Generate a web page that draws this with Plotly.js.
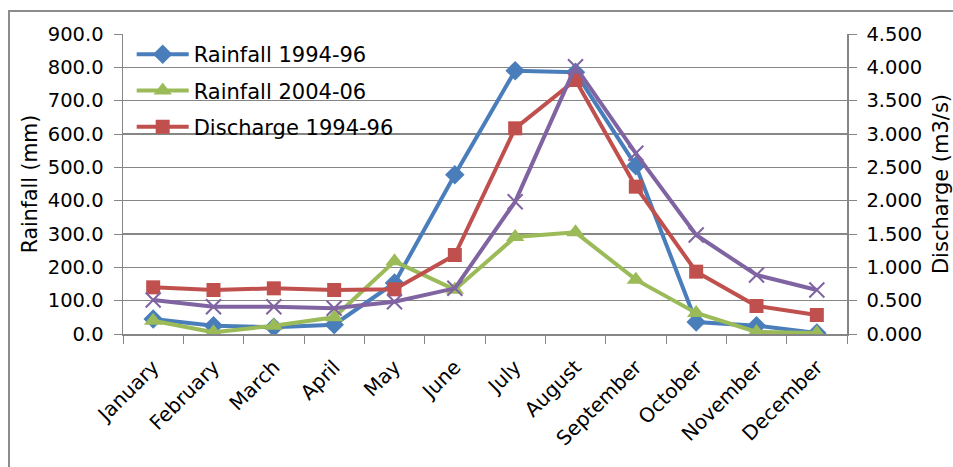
<!DOCTYPE html>
<html>
<head>
<meta charset="utf-8">
<script src="https://cdn.plot.ly/plotly-3.0.1.min.js"></script>
<style>
html,body{margin:0;padding:0;background:#fff;}
#frame{position:absolute;left:8px;top:10px;width:960px;height:470px;border-left:2px solid #8c8c8c;border-top:2px solid #8c8c8c;box-sizing:border-box;}
#chart{position:absolute;left:0;top:0;width:953px;height:467px;}
</style>
</head>
<body>
<div id="frame"></div>
<div id="chart"></div>
<script>
const months = ["January","February","March","April","May","June","July","August","September","October","November","December"];
const rainfall9496 = [45, 25, 20, 28, 153, 478, 790, 785, 505, 36, 25, 3];
const rainfall0406 = [40, 5, 25, 50, 218, 133, 291, 305, 163, 63, 6, 3];
const discharge9496 = [0.70, 0.66, 0.685, 0.66, 0.67, 1.185, 3.085, 3.81, 2.21, 0.935, 0.42, 0.285];
const discharge0406 = [0.51, 0.41, 0.41, 0.385, 0.485, 0.685, 1.985, 4.01, 2.71, 1.485, 0.885, 0.66];

const FONT = "'DejaVu Sans', sans-serif";
const traces = [
  {x: months, y: rainfall9496, name: "Rainfall 1994-96", legendgroup: "a", yaxis: "y", mode: "lines+markers",
   line: {color: "#4a7ebb", width: 4}, marker: {symbol: "diamond", size: 15, color: "#4a7ebb"}},
  {x: months, y: rainfall0406, name: "Rainfall 2004-06", legendgroup: "b", yaxis: "y", mode: "lines+markers",
   line: {color: "#9bbb59", width: 4}, marker: {symbol: "triangle-up", size: 16, color: "#9bbb59"}},
  {x: months, y: discharge9496, name: "Discharge 1994-96", legendgroup: "c", yaxis: "y2", mode: "lines+markers",
   line: {color: "#c0504d", width: 4}, marker: {symbol: "square", size: 14, color: "#c0504d"}},
  {x: months, y: discharge0406, name: "Discharge 2004-06", legendgroup: "d", yaxis: "y2", mode: "lines+markers", showlegend: false,
   line: {color: "#8064a2", width: 4}, marker: {symbol: "x-thin-open", size: 15, color: "#8064a2", line: {color: "#8064a2", width: 2}}}
];

const layout = {
  width: 953, height: 467,
  margin: {l: 123, r: 106, t: 34, b: 133},
  paper_bgcolor: "rgba(0,0,0,0)",
  plot_bgcolor: "rgba(0,0,0,0)",
  font: {family: FONT, color: "#000", size: 18},
  showlegend: true,
  legend: {x: 0.012, y: 1.0, xanchor: "left", yanchor: "top", bgcolor: "rgba(0,0,0,0)",
           font: {size: 21, family: FONT}, tracegroupgap: 6, itemwidth: 52},
  xaxis: {type: "category", range: [-0.5, 11.5], tickangle: -45, showgrid: false,
          showline: true, linecolor: "#868686", linewidth: 1.5, ticks: "outside", tickson: "boundaries",
          ticklen: 8, tickcolor: "#868686", tickfont: {size: 20, family: FONT}, ticklabelstandoff: 12},
  yaxis: {range: [0, 900], dtick: 100, tickformat: ".1f", showgrid: true, gridcolor: "#868686", gridwidth: 1.5,
          showline: true, linecolor: "#868686", linewidth: 1.5, ticks: "outside", ticklen: 8, tickcolor: "#868686",
          zeroline: false, tickfont: {size: 19.5, family: FONT}, ticklabelstandoff: 6,
          title: {text: "Rainfall (mm)", font: {size: 20.5, family: FONT}, standoff: 4}},
  yaxis2: {range: [0, 4.5], dtick: 0.5, tickformat: ".3f", overlaying: "y", side: "right", showgrid: false,
           showline: true, linecolor: "#868686", linewidth: 1.5, ticks: "outside", ticklen: 8, tickcolor: "#868686",
           zeroline: false, tickfont: {size: 19.5, family: FONT}, ticklabelstandoff: 6,
           title: {text: "Discharge (m3/s)", font: {size: 21, family: FONT}, standoff: 15}}
};

Plotly.newPlot("chart", traces, layout, {staticPlot: true, displayModeBar: false});
</script>
</body>
</html>
